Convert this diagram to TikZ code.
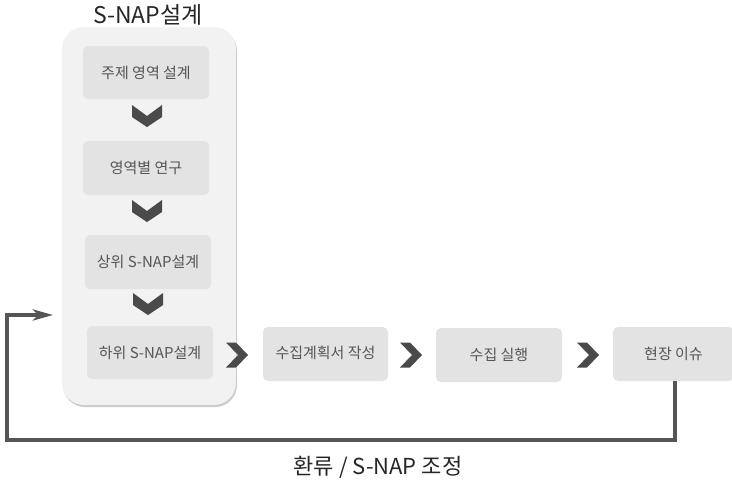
\documentclass[tikz,border=0pt]{standalone}
\usepackage{fontspec}
\setmainfont{Noto Sans CJK KR}
\usetikzlibrary{arrows.meta,shadows,calc}
\definecolor{boxgray}{HTML}{E3E3E3}
\definecolor{contgray}{HTML}{F2F2F2}
\definecolor{txtgray}{HTML}{555555}
\definecolor{chev}{HTML}{4A4A4A}
\definecolor{linegray}{HTML}{555555}
\tikzset{
  stepbox/.style={fill=boxgray, rounded corners=5pt, text=txtgray, font=\fontsize{15}{17}\selectfont, inner sep=0pt, anchor=center},
  chevdown/.pic={\fill[chev] (-15,-11) -- (0,0) -- (15,-11) -- (15,1) -- (0,11) -- (-15,1) -- cycle;},
  chevright/.pic={\fill[chev] (-11,-12.5) -- (-1,-12.5) -- (11,0) -- (-1,12.5) -- (-11,12.5) -- (1,0) -- cycle;},
  feedback/.style={draw=linegray, line width=3.5pt},
}
\begin{document}
\begin{tikzpicture}[x=1pt,y=-1pt]
\useasboundingbox (0,0) rectangle (732,480);
% container
\path[fill=contgray, rounded corners=22pt, drop shadow={shadow xshift=1pt, shadow yshift=-2pt, opacity=0.35, fill=black!60}] (62,27) rectangle (236,405);
\node[font=\fontsize{23}{25}\selectfont, text=black!85] (title) at (148,15) {S-NAP설계};
% boxes
\node[stepbox, minimum width=126pt, minimum height=53pt] (b1) at (146,72.5) {주제 영역 설계};
\node[stepbox, minimum width=126pt, minimum height=54pt] (b2) at (146,168) {영역별 연구};
\node[stepbox, minimum width=126pt, minimum height=54pt] (b3) at (148,262) {상위 S-NAP설계};
\node[stepbox, minimum width=126pt, minimum height=53pt] (b4) at (150,352.5) {하위 S-NAP설계};
\node[stepbox, minimum width=125pt, minimum height=54pt] (b5) at (325.5,354) {\raisebox{3pt}{수집계획서 작성}};
\node[stepbox, minimum width=126pt, minimum height=54pt] (b6) at (499,355) {수집 실행};
\node[stepbox, minimum width=121pt, minimum height=54pt] (b7) at (673.5,354) {현장 이슈};
% chevrons
\pic at (147,116) {chevdown};
\pic at (147,211) {chevdown};
\pic at (148,304) {chevdown};
\pic at (237,355) {chevright};
\pic at (411,355) {chevright};
\pic at (588,355) {chevright};
% feedback loop
\coordinate (fbtip) at (53,315);
\draw[feedback, -{Stealth[length=20pt,width=11pt,inset=5pt]}] (b7.south -| 675,0) -- (675,440) -- (7,440) -- (7,315) -- (fbtip);
\node[font=\fontsize{22}{25}\selectfont, text=black!85] (fblabel) at (378,467) {환류 / S-NAP 조정};
\end{tikzpicture}
\end{document}
